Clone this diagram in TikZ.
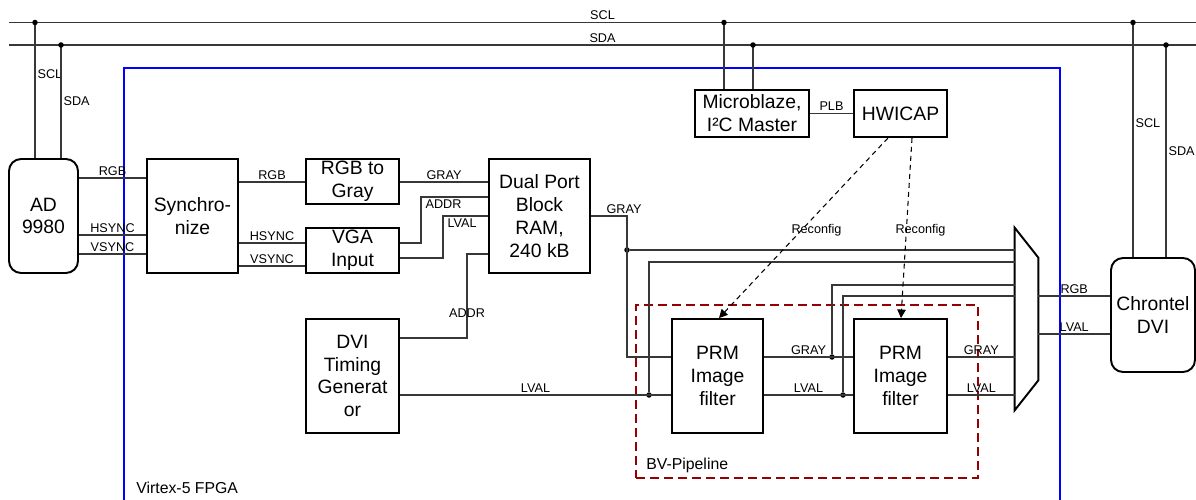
\documentclass[tikz,border=0pt]{standalone}
\usepackage{fontspec}
\setmainfont{Liberation Sans}
\usetikzlibrary{arrows.meta}
\definecolor{fpgablue}{RGB}{0,0,255}
\definecolor{bvred}{RGB}{150,0,0}
\definecolor{wire}{RGB}{55,55,55}

\begin{document}
\begin{tikzpicture}[x=0.02cm, y=-0.02cm,
  block/.style={draw, line width=1.1pt, align=center, inner sep=0pt,
    font=\fontsize{11}{13}\selectfont, minimum height=2.28cm},
  chip/.style={block, rounded corners=0.24cm},
  lbl/.style={font=\fontsize{7.2}{8.5}\selectfont, inner sep=1.2pt},
  wirel/.style={draw=wire, line width=0.6pt},
  reconf/.style={draw=black, line width=0.6pt, dash pattern=on 0.1cm off 0.08cm,
    -{Triangle[length=0.17cm,width=0.17cm]}},
  dot/.style={circle, fill=black, inner sep=0pt, minimum size=0.11cm}]
\useasboundingbox (0,0) rectangle (1196,500);

% ---- FPGA frame (lower edge runs out of the picture) ----
\draw[fpgablue, line width=0.7pt] (124,500) -- (124,68) -- (1060,68) -- (1060,500);
\node[anchor=west, inner sep=0pt, font=\fontsize{9}{11}\selectfont] (fpga) at (136,488) {Virtex-5 FPGA};

% ---- blocks ----
\node[chip, minimum width=1.38cm] (ad) at (43.5,216) {AD\\9980};
\node[block, minimum width=1.82cm] (sync) at (192.5,216) {Synchro-\\nize};
\node[block, minimum width=1.86cm, minimum height=0.9cm] (gray) at (352.5,181.5) {RGB to\\Gray};
\node[block, minimum width=1.86cm, minimum height=0.9cm] (vga) at (352.5,250.5) {VGA\\Input};
\node[block, minimum width=2.02cm] (bram) at (539.5,216) {Dual Port\\Block\\RAM,\\240 kB};
\node[block, minimum width=1.86cm] (timing) at (352.5,376) {DVI\\Timing\\Generat\\or};
\node[block, minimum width=1.82cm] (prma) at (717.5,376) {PRM\\Image\\filter};
\node[block, minimum width=1.86cm] (prmb) at (900.5,376) {PRM\\Image\\filter};
\node[block, minimum width=2.28cm, minimum height=0.94cm] (mb) at (752,113.5) {Microblaze,\\I²C Master};
\node[block, minimum width=1.86cm, minimum height=0.94cm] (icap) at (900.5,113.5) {HWICAP};
\node[chip, minimum width=1.68cm] (dvi) at (1153,315) {Chrontel\\DVI};

% ---- output mux ----
\node[minimum width=0.46cm, minimum height=3.64cm, inner sep=0pt] (mux) at (1026.5,319) {};
\draw[line width=1.1pt] (mux.north west) -- ([yshift=-0.6cm]mux.north east)
  -- ([yshift=0.6cm]mux.south east) -- (mux.south west) -- cycle;

% ---- BV pipeline frame ----
\node[draw=bvred, line width=0.7pt, dash pattern=on 0.18cm off 0.1cm,
  minimum width=6.84cm, minimum height=3.46cm, inner sep=0pt] (pipe) at (807,391.5) {};
\node[anchor=west, inner sep=0pt, font=\fontsize{9}{11}\selectfont] (pipelbl) at (646,465) {BV-Pipeline};

% ---- I2C bus ----
\coordinate (scl-w) at (9,22.5);
\coordinate (scl-e) at (1196,22.5);
\coordinate (sda-w) at (9,45);
\coordinate (sda-e) at (1196,45);
\draw[wirel] (scl-w) -- (scl-e) node[lbl, midway, above] {SCL};
\draw[wirel] (sda-w) -- (sda-e) node[lbl, midway, above] {SDA};
\draw[wirel] (scl-w -| 35,0) node[dot] {} -- (ad.north -| 35,0) node[lbl, pos=0.38, right] {SCL};
\draw[wirel] (sda-w -| 61,0) node[dot] {} -- (ad.north -| 61,0) node[lbl, pos=0.5, right] {SDA};
\draw[wirel] (scl-w -| 724,0) node[dot] {} -- (mb.north -| 724,0);
\draw[wirel] (sda-w -| 753,0) node[dot] {} -- (mb.north -| 753,0);
\draw[wirel] (scl-w -| 1133,0) node[dot] {} -- (dvi.north -| 1133,0) node[lbl, pos=0.43, right] {SCL};
\draw[wirel] (sda-w -| 1166,0) node[dot] {} -- (dvi.north -| 1166,0) node[lbl, pos=0.5, right] {SDA};

% ---- video input ----
\draw[wirel] (ad.east |- 0,178) -- (sync.west |- 0,178) node[lbl, midway, above] {RGB};
\draw[wirel] (ad.east |- 0,235) -- (sync.west |- 0,235) node[lbl, midway, above] {HSYNC};
\draw[wirel] (ad.east |- 0,254) -- (sync.west |- 0,254) node[lbl, midway, above] {VSYNC};
\draw[wirel] (sync.east |- 0,182) -- (gray.west |- 0,182) node[lbl, midway, above] {RGB};
\draw[wirel] (sync.east |- 0,243) -- (vga.west |- 0,243) node[lbl, midway, above] {HSYNC};
\draw[wirel] (sync.east |- 0,266) -- (vga.west |- 0,266) node[lbl, midway, above] {VSYNC};
\draw[wirel] (gray.east |- 0,182) -- (bram.west |- 0,182) node[lbl, midway, above] {GRAY};
\draw[wirel] (vga.east |- 0,243) -| (421,197) node[lbl, anchor=north west, xshift=0.04cm] {ADDR} -- (bram.west |- 0,197);
\draw[wirel] (vga.east |- 0,258) -| (443,216) node[lbl, anchor=north west, xshift=0.04cm] {LVAL} -- (bram.west |- 0,216);
\draw[wirel] (timing.east |- 0,338) -- (467,338) -- (467,254) node[lbl, pos=0.3] {ADDR} -- (bram.west |- 0,254);

% ---- filter pipeline ----
\node[dot] (g1) at (627,250) {};
\node[dot] (lv1) at (649,395) {};
\node[dot] (g2) at (832,357) {};
\node[dot] (lv2) at (843,395) {};
\draw[wirel] (bram.east |- 0,216) -- (627,216) node[lbl, above, xshift=-0.06cm] {GRAY} -- (627,357) -- (prma.west |- 0,357);
\draw[wirel] (timing.east |- 0,395) -- (prma.west |- 0,395) node[lbl, midway, above] {LVAL};
\draw[wirel] (g1) -- (mux.west |- g1);
\draw[wirel] (lv1) -- (lv1 |- 0,262) -- (mux.west |- 0,262);
\draw[wirel] (prma.east |- 0,357) -- (prmb.west |- 0,357) node[lbl, midway, above] {GRAY};
\draw[wirel] (prma.east |- 0,395) -- (prmb.west |- 0,395) node[lbl, midway, above] {LVAL};
\draw[wirel] (g2) -- (g2 |- 0,285) -- (mux.west |- 0,285);
\draw[wirel] (lv2) -- (lv2 |- 0,296) -- (mux.west |- 0,296);
\draw[wirel] (prmb.east |- 0,357) -- (mux.west |- 0,357) node[lbl, midway, above] {GRAY};
\draw[wirel] (prmb.east |- 0,395) -- (mux.west |- 0,395) node[lbl, midway, above] {LVAL};
\draw[wirel] (mux.east |- 0,296) -- (dvi.west |- 0,296) node[lbl, midway, above] {RGB};
\draw[wirel] (mux.east |- 0,334) -- (dvi.west |- 0,334) node[lbl, midway, above] {LVAL};

% ---- reconfiguration ----
\draw[wirel] (mb) -- (icap) node[lbl, midway, above] {PLB};
\draw[reconf] (icap.south -| 888,0) -- (prma.north -| 719,0) node[lbl, midway, xshift=0.26cm, yshift=-0.04cm] {Reconfig};
\draw[reconf] (icap.south -| 912,0) -- (prmb.north -| 901,0) node[lbl, midway, xshift=0.28cm, yshift=-0.04cm] {Reconfig};
\end{tikzpicture}
\end{document}
